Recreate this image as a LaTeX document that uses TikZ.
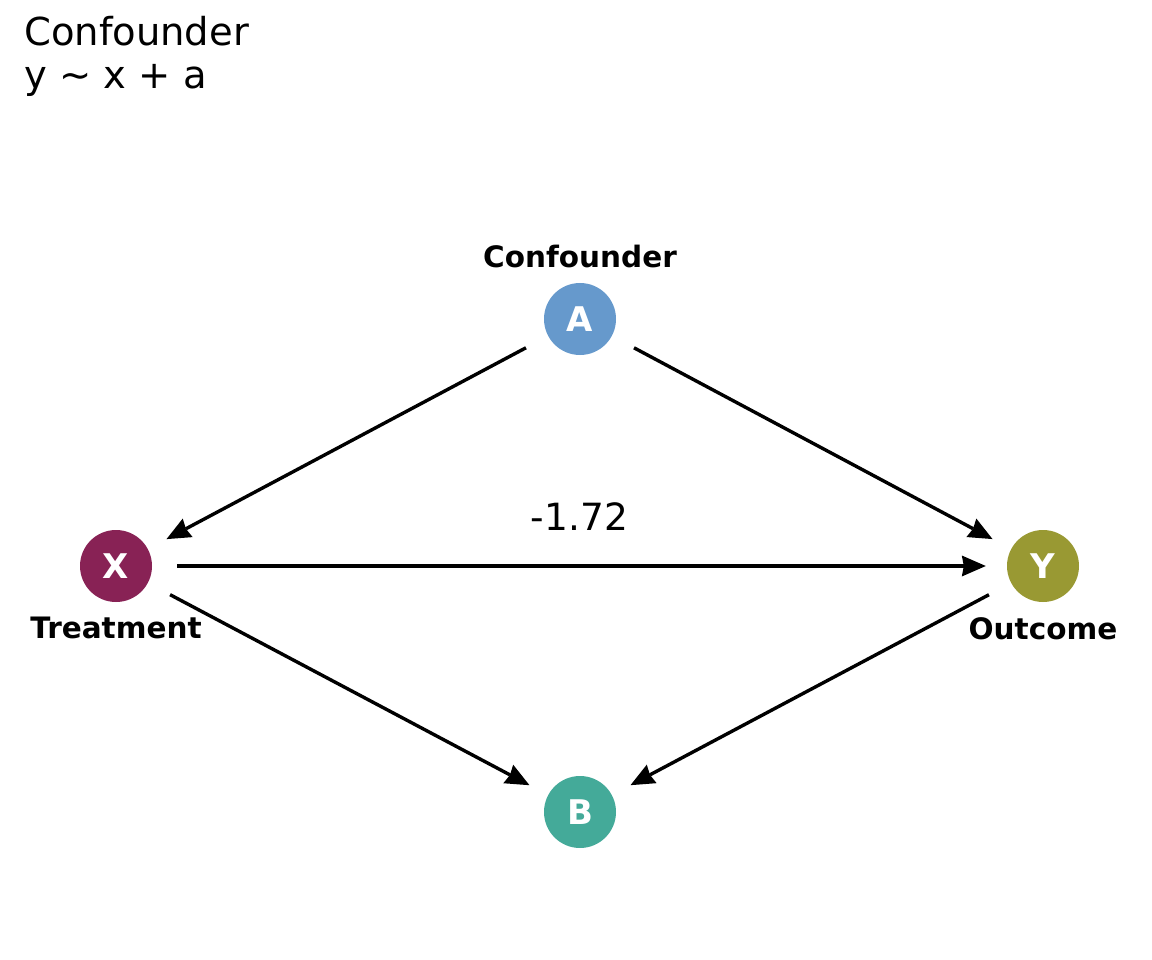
\documentclass[tikz,border=0pt]{standalone}
\usepackage{fontspec}
\setmainfont{DejaVu Sans}
\usetikzlibrary{arrows.meta,positioning}

\definecolor{colA}{HTML}{6699CC}
\definecolor{colX}{HTML}{882255}
\definecolor{colY}{HTML}{999933}
\definecolor{colB}{HTML}{44AA99}

\begin{document}
\begin{tikzpicture}[x=1pt,y=1pt,
  var/.style={circle, fill=#1, minimum size=72pt, inner sep=0pt, text=white,
              font=\fontsize{34}{38}\selectfont\bfseries},
  lbl/.style={inner sep=0pt, font=\fontsize{29.5}{34}\selectfont\bfseries},
  edge/.style={line width=3.4pt, -{Stealth[length=24pt,width=21pt,inset=2pt,line width=0pt]},
               shorten <=25pt, shorten >=21pt}]

  \useasboundingbox (0,0) rectangle (1152,-960);

  \node[anchor=north west, align=left, inner sep=0pt,
        font=\fontsize{38.5}{43}\selectfont] (title) at (24,-16) {Confounder\\y \textasciitilde{} x + a};

  \node[var=colA] (A) at (580,-319) {A};
  \node[var=colX] (X) at (116,-566) {X};
  \node[var=colY] (Y) at (1043,-566) {Y};
  \node[var=colB] (B) at (580,-812) {B};

  \node[lbl, above=15pt of A] (Alab) {Confounder};
  \node[lbl, below=15pt of X] (Xlab) {Treatment};
  \node[lbl, below=15pt of Y] (Ylab) {Outcome};

  \draw[edge] (A) -- (X);
  \draw[edge] (A) -- (Y);
  \draw[edge] (X) -- (Y)
    node[midway, above=30pt, font=\fontsize{37.5}{42}\selectfont] (est) {-1.72};
  \draw[edge] (X) -- (B);
  \draw[edge] (Y) -- (B);

\end{tikzpicture}
\end{document}
